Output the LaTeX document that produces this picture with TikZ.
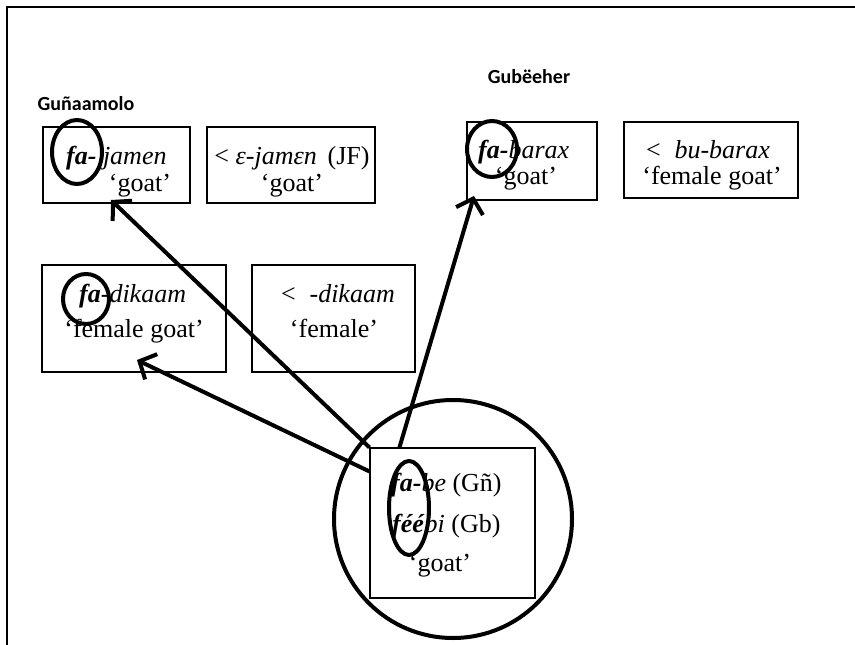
\documentclass[tikz,border=0pt]{standalone}
\usepackage{fontspec}
\setmainfont{Liberation Serif}[
  BoldFont=* Bold,
  ItalicFont=* Italic,
  BoldItalicFont=* Bold Italic]
\newfontfamily\headfont{Carlito}
\usetikzlibrary{arrows.meta,shapes.geometric}
\begin{document}
\begin{tikzpicture}[x=1pt,y=-1pt,
  frame/.style={line width=1.4pt},
  box/.style={draw, line width=1.1pt, inner sep=0pt},
  word/.style={font=\fontsize{26}{31}\selectfont, inner sep=0pt},
  heading/.style={font=\headfont\bfseries\fontsize{20}{24}\selectfont, inner sep=0pt},
  ring/.style={draw, ellipse, line width=4pt, inner sep=0pt},
  link/.style={line width=4pt, -{Straight Barb[length=13pt,width=28pt]}}
]
\path[use as bounding box] (0,0) rectangle (855,645);
\draw[frame] (7,645) -- (7,7) -- (855,7);

% language headings
\node[heading] (h1) at (86,104) {Guñaamolo};
\node[heading] (h2) at (529,77) {Gubëeher};

% word boxes
\node[box, minimum width=147, minimum height=76] (b1) at (116.5,165) {};
\node[box, minimum width=168, minimum height=76] (b2) at (291,165) {};
\node[box, minimum width=130, minimum height=78] (b3) at (532,161) {};
\node[box, minimum width=174, minimum height=76] (b4) at (711,160) {};
\node[box, minimum width=184, minimum height=107] (b5) at (134,318.5) {};
\node[box, minimum width=163, minimum height=107] (b6) at (333.5,318.5) {};
\node[box, minimum width=165, minimum height=150] (b7) at (452.5,523) {};

% box texts
\node[word, anchor=base west] (t1a) at (66,164) {\textbf{\textit{fa-}} \textit{jamen}};
\node[word, anchor=base] (t1b) at (140,191) {‘goat’};
\node[word, anchor=base] (t2a) at (292,164) {< \textit{ε-jamεn}\, (JF)};
\node[word, anchor=base] (t2b) at (292,191) {‘goat’};
\node[word, anchor=base west] (t3a) at (478,158) {\textbf{\textit{fa-}}\textit{barax}};
\node[word, anchor=base] (t3b) at (526,184) {‘goat’};
\node[word, anchor=base] (t4a) at (708,158) {<\; \textit{bu-barax}};
\node[word, anchor=base] (t4b) at (712,184) {‘female goat’};
\node[word, anchor=base west] (t5a) at (79,302) {\textbf{\textit{fa}}-\textit{dikaam}};
\node[word, anchor=base] (t5b) at (134,337) {‘female goat’};
\node[word, anchor=base] (t6a) at (338,302) {<\; \textit{-dikaam}};
\node[word, anchor=base] (t6b) at (334,337) {‘female’};
\node[word, anchor=base west] (t7a) at (391,491) {\textbf{\textit{fa-}}\textit{be} (Gñ)};
\node[word, anchor=base west] (t7b) at (392,532) {\textbf{\textit{féé}}\textit{bi} (Gb)};
\node[word, anchor=base] (t7c) at (440,571) {‘goat’};

% rings round the prefixes
\node[ring, minimum width=50, minimum height=64] (r1) at (77,152) {};
\node[ring, minimum width=50, minimum height=56] (r3) at (492,149) {};
\node[ring, minimum width=46, minimum height=50] (r5) at (86,299) {};
\node[ring, minimum width=40, minimum height=94] (r7) at (409,508) {};
\node[ring, minimum width=238, minimum height=238] (rc) at (453,519) {};

% arrows from the source form
\coordinate (srcA) at (b7.north west);
\coordinate (srcB) at ([yshift=-24pt]b7.north west);
\coordinate (srcC) at ([xshift=30pt]b7.north west);
\coordinate (tipA) at (111,200);
\coordinate (tipB) at (137,360);
\coordinate (tipC) at (474,196);
\draw[link] (srcA) -- (tipA);
\draw[link] (srcB) -- (tipB);
\draw[link] (srcC) -- (tipC);
\end{tikzpicture}
\end{document}
